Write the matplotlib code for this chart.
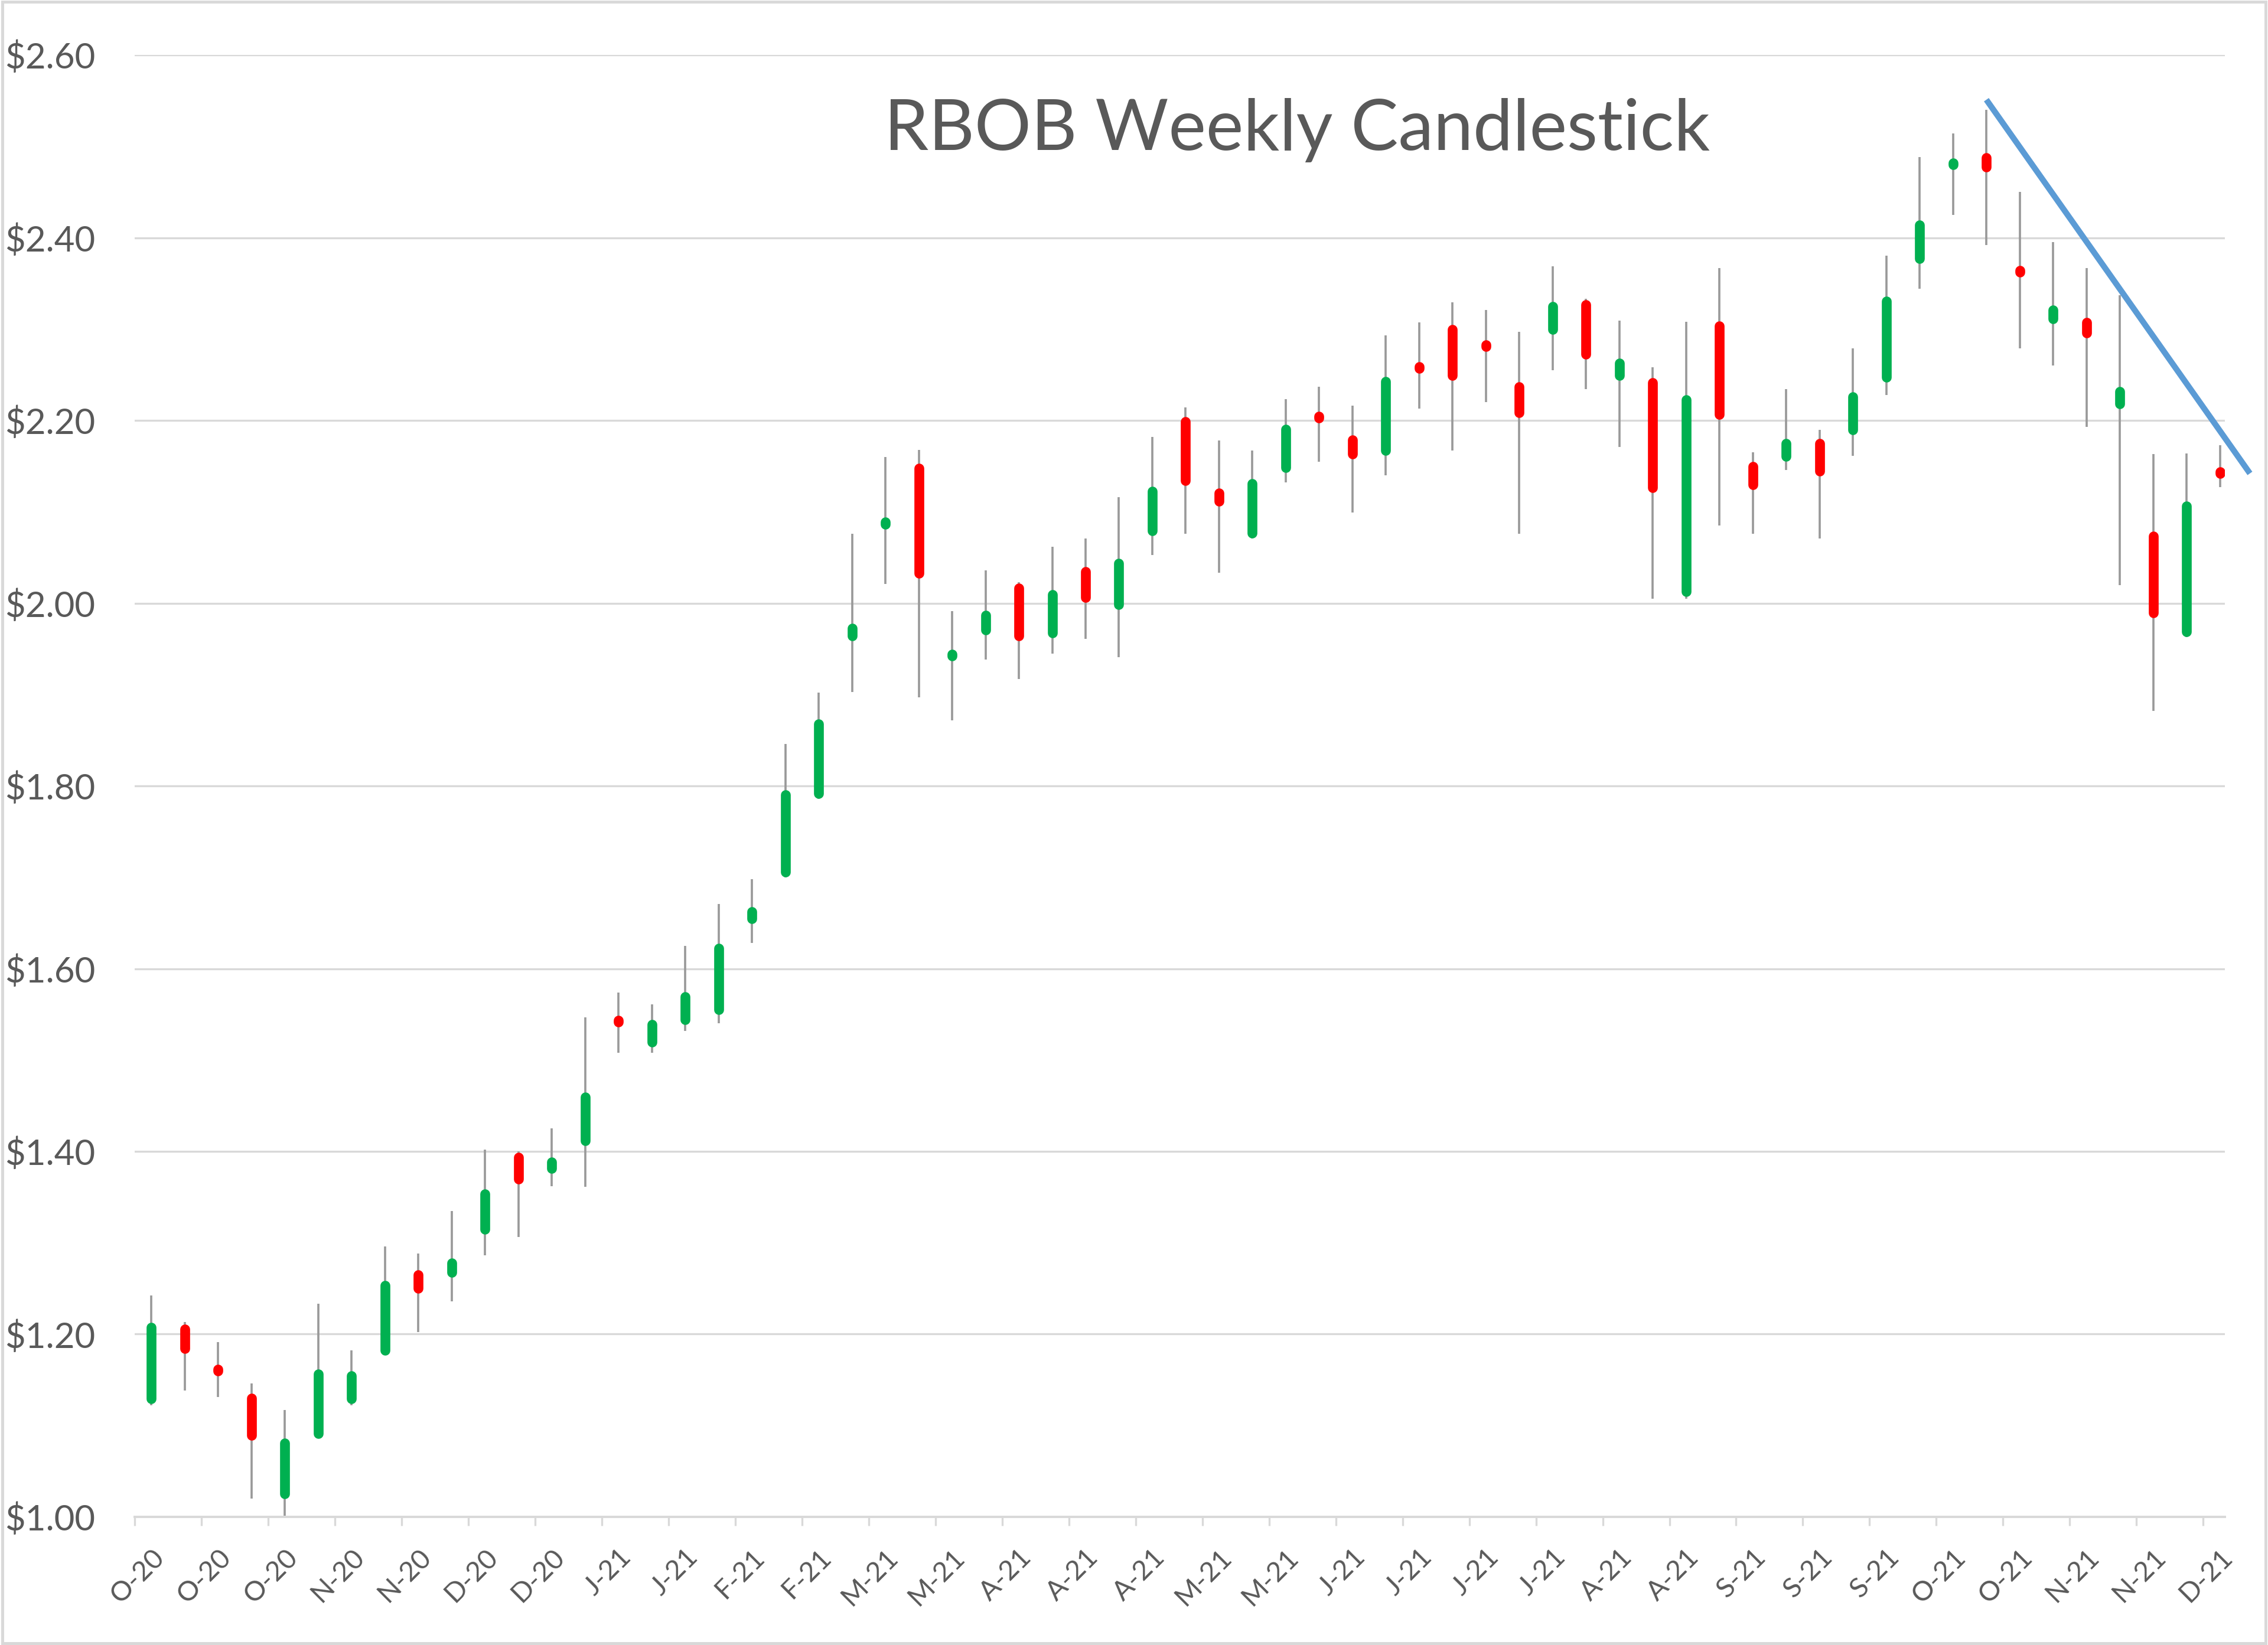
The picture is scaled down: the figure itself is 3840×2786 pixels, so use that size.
import numpy as np
import matplotlib
matplotlib.use("Agg")
import matplotlib.pyplot as plt
from matplotlib.patches import Rectangle

plt.rcParams['font.family'] = ['Lato', 'DejaVu Sans']

# weekly RBOB candles, Oct 2020 - Dec 2021
opens = [1.124, 1.211, 1.167, 1.135, 1.020, 1.086, 1.124, 1.177, 1.270, 1.262,
         1.309, 1.399, 1.376, 1.406, 1.546, 1.514, 1.539, 1.550, 1.649, 1.700,
         1.786, 1.959, 2.081, 2.153, 1.938, 1.965, 2.022, 1.962, 2.040, 1.993,
         2.074, 2.204, 2.126, 2.071, 2.143, 2.205, 2.184, 2.162, 2.264, 2.305,
         2.287, 2.242, 2.294, 2.332, 2.244, 2.247, 2.007, 2.309, 2.155, 2.155,
         2.180, 2.184, 2.242, 2.372, 2.476, 2.493, 2.365, 2.306, 2.313, 2.213,
         2.079, 1.963, 2.145]
highs = [1.242, 1.213, 1.191, 1.146, 1.117, 1.233, 1.182, 1.296, 1.288, 1.335,
         1.402, 1.400, 1.425, 1.547, 1.574, 1.561, 1.625, 1.671, 1.698, 1.846,
         1.902, 2.076, 2.160, 2.168, 1.991, 2.036, 2.023, 2.062, 2.071, 2.116,
         2.182, 2.214, 2.178, 2.167, 2.223, 2.237, 2.216, 2.293, 2.307, 2.329,
         2.321, 2.297, 2.369, 2.333, 2.309, 2.258, 2.308, 2.367, 2.165, 2.234,
         2.190, 2.279, 2.380, 2.488, 2.514, 2.540, 2.450, 2.395, 2.367, 2.337,
         2.163, 2.164, 2.173]
lows = [1.122, 1.138, 1.131, 1.020, 1.000, 1.086, 1.122, 1.177, 1.202, 1.236,
        1.286, 1.306, 1.362, 1.361, 1.508, 1.508, 1.532, 1.540, 1.628, 1.700,
        1.786, 1.903, 2.021, 1.897, 1.872, 1.938, 1.917, 1.945, 1.961, 1.941,
        2.053, 2.076, 2.033, 2.071, 2.132, 2.155, 2.099, 2.140, 2.213, 2.167,
        2.220, 2.076, 2.255, 2.234, 2.171, 2.005, 2.005, 2.085, 2.076, 2.146,
        2.071, 2.161, 2.228, 2.344, 2.425, 2.392, 2.279, 2.260, 2.193, 2.020,
        1.882, 1.963, 2.127]
closes = [1.213, 1.179, 1.154, 1.084, 1.086, 1.162, 1.160, 1.259, 1.245, 1.283,
          1.359, 1.364, 1.394, 1.465, 1.539, 1.544, 1.575, 1.628, 1.668, 1.796,
          1.873, 1.978, 2.094, 2.027, 1.948, 1.992, 1.959, 2.015, 2.001, 2.049,
          2.128, 2.129, 2.106, 2.136, 2.196, 2.202, 2.158, 2.248, 2.252, 2.244,
          2.276, 2.203, 2.330, 2.267, 2.268, 2.121, 2.228, 2.201, 2.124, 2.180,
          2.139, 2.231, 2.336, 2.419, 2.486, 2.472, 2.361, 2.326, 2.290, 2.237,
          1.984, 2.112, 2.141]

# one label every second week
week_labels = ['O-20', 'O-20', 'O-20', 'N-20', 'N-20', 'D-20', 'D-20', 'J-21',
               'J-21', 'F-21', 'F-21', 'M-21', 'M-21', 'A-21', 'A-21', 'A-21',
               'M-21', 'M-21', 'J-21', 'J-21', 'J-21', 'J-21', 'A-21', 'A-21',
               'S-21', 'S-21', 'S-21', 'O-21', 'O-21', 'N-21', 'N-21', 'D-21']

# hand drawn trend line (week index, price)
trend_x = [55.0, 62.9]
trend_y = [2.551, 2.142]

y_ticks = [1.0, 1.2, 1.4, 1.6, 1.8, 2.0, 2.2, 2.4, 2.6]

W, H, DPI = 3840, 2786, 240
fig = plt.figure(figsize=(W / DPI, H / DPI), dpi=DPI)
ax = fig.add_axes([0.0594, 0.0779, 0.9216, 0.8887])

green = '#00B050'
red = '#FF0000'
grey = '#999999'
text_col = '#595959'
grid_col = '#D9D9D9'

body_lw = 5.0
ax_h_px = 0.8887 * H
cap = (body_lw / 72 * DPI / 2) / (ax_h_px / 1.6)

x = np.arange(len(opens))
ax.vlines(x, lows, highs, color=grey, linewidth=1.1, zorder=2)
for i in x:
    o, c = opens[i], closes[i]
    col = green if c >= o else red
    lo, hi = min(o, c), max(o, c)
    inset = max(min(cap, (hi - lo) / 2 - 0.001), 0)
    if hi - lo < 0.002:
        lo, hi = lo - 0.001, hi + 0.001
    ax.plot([i, i], [lo + inset, hi - inset], color=col, linewidth=body_lw,
            solid_capstyle='round', zorder=3)

ax.plot(trend_x, trend_y, color='#5B9BD5', linewidth=3.0, clip_on=False,
        solid_capstyle='butt', zorder=4)

ax.set_xlim(-0.5, 62.15)
ax.set_ylim(1.0, 2.6)
ax.set_yticks(y_ticks)
ax.set_yticklabels(['${:.2f}'.format(v) for v in y_ticks])
ax.yaxis.grid(True, color=grid_col, linewidth=1.0)
ax.set_axisbelow(True)

ax.set_xticks(np.arange(0, 63, 2))
ax.set_xticklabels(week_labels, rotation=45, ha='right', rotation_mode='anchor')
ax.set_xticks(np.arange(-0.5, 62, 2), minor=True)
ax.tick_params(axis='x', which='major', length=0, pad=14, labelsize=14,
               labelcolor=text_col)
ax.tick_params(axis='x', which='minor', length=4.5, width=1.0, color=grid_col,
               direction='out')
ax.tick_params(axis='y', length=0, pad=20, labelsize=18, labelcolor=text_col)

for s in ['top', 'right', 'left']:
    ax.spines[s].set_visible(False)
ax.spines['bottom'].set_color(grid_col)
ax.spines['bottom'].set_linewidth(1.2)

fig.text(0.572, 0.921, 'RBOB Weekly Candlestick', ha='center', va='center',
         fontsize=36, color=text_col)

fig.patches.append(Rectangle((0.001, 0.001), 0.998, 0.998, transform=fig.transFigure,
                             fill=False, edgecolor=grid_col, linewidth=1.5))

fig.savefig('out.png', dpi=DPI, facecolor='white')
